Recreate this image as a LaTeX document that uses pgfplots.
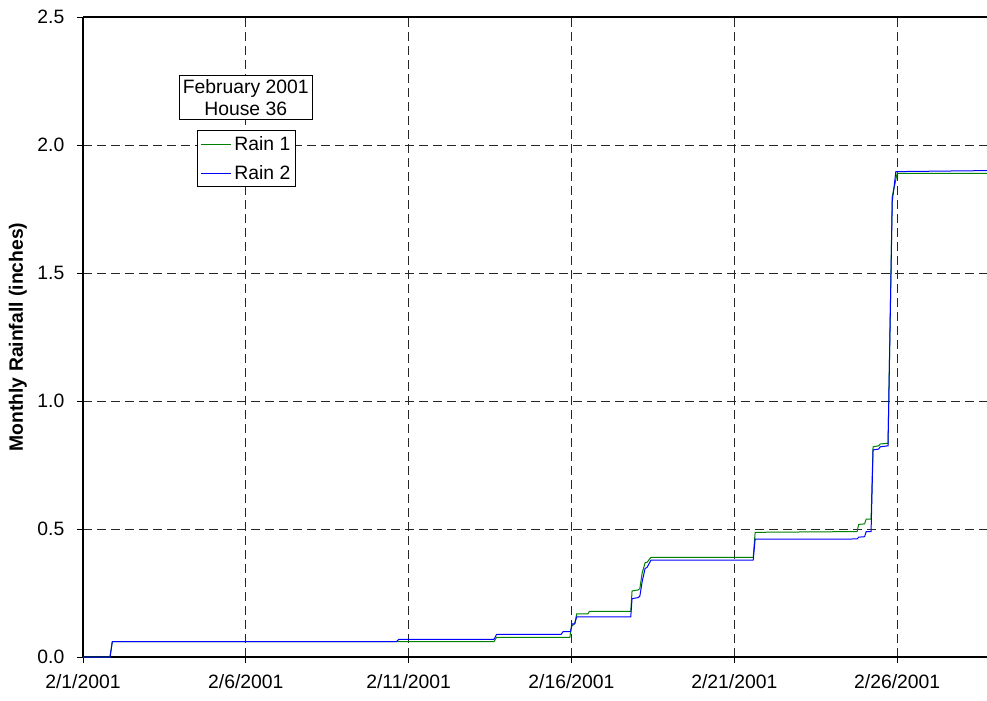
\documentclass[border=0pt]{standalone}
\usepackage{pgfplots}
\pgfplotsset{compat=1.18}
\usepackage{fontspec}
\setmainfont{Liberation Sans}

\definecolor{raingreen}{RGB}{0,128,0}
\definecolor{rainblue}{RGB}{0,0,255}

\begin{document}
\begin{tikzpicture}
\path[use as bounding box] (0,0) rectangle (740.25pt,525pt);
\begin{axis}[
    at={(62.25pt,32.25pt)}, anchor=south west,
    scale only axis,
    width=678pt, height=480pt,
    xmin=0, xmax=27.76,
    ymin=0, ymax=2.5,
    axis x line*=box,
    axis y line*=left,
    xtick pos=bottom,
    ytick pos=left,
    tick align=outside,
    major tick length=4.5pt,
    xtick={0,5,10,15,20,25},
    xticklabels={2/1/2001,2/6/2001,2/11/2001,2/16/2001,2/21/2001,2/26/2001},
    ytick={0,0.5,1,1.5,2,2.5},
    y tick label style={/pgf/number format/fixed, /pgf/number format/fixed zerofill,
        /pgf/number format/precision=1},
    /pgf/number format/assume math mode=true,
    ticklabel style={font=\fontsize{14.5}{17}\selectfont},
    xticklabel style={yshift=-5pt},
    yticklabel style={xshift=-6pt},
    ylabel={\bfseries Monthly Rainfall (inches)},
    ylabel style={font=\fontsize{14.5}{17}\selectfont},
    ylabel shift=1pt,
    grid=major,
    major grid style={black!85, dash pattern=on 7pt off 3.5pt, line width=0.6pt},
    axis line style={black, line width=0.8pt},
    every tick/.style={black, line width=0.6pt},
    legend style={at={(0.1261,0.823)}, anchor=north west, draw=black,
        line width=0.6pt, fill=white, font=\fontsize{14.5}{17}\selectfont,
        inner sep=2pt, row sep=6pt},
    legend cell align=left,
    legend image code/.code={\draw[#1] (0pt,0pt) -- (23pt,0pt);},
    clip=true,
]
\addplot[raingreen, line width=0.75pt] coordinates {
    (0,0) (0.83,0) (0.90,0.06) (12.62,0.06) (12.70,0.077) (14.95,0.077)
    (15.00,0.12) (15.10,0.13) (15.16,0.168) (15.50,0.168) (15.55,0.178)
    (16.82,0.178) (16.86,0.258) (17.05,0.262) (17.10,0.268) (17.17,0.328)
    (17.26,0.368) (17.32,0.370) (17.44,0.389) (20.58,0.389) (20.64,0.487)
    (23.77,0.490) (23.82,0.518) (24.00,0.520) (24.05,0.539) (24.20,0.539)
    (24.26,0.821) (24.43,0.825) (24.48,0.832) (24.72,0.835) (24.85,1.80)
    (24.92,1.84) (25.00,1.889) (27.76,1.889)
};
\addlegendentry{Rain 1}
\addplot[rainblue, line width=0.75pt] coordinates {
    (0,0) (0.83,0) (0.90,0.06) (9.62,0.06) (9.70,0.069) (12.62,0.069)
    (12.70,0.088) (14.68,0.088) (14.74,0.099) (14.97,0.099) (15.02,0.129)
    (15.10,0.130) (15.16,0.157) (16.82,0.157) (16.86,0.228) (17.05,0.232)
    (17.10,0.238) (17.17,0.294) (17.26,0.346) (17.32,0.350) (17.44,0.378)
    (20.58,0.378) (20.64,0.460) (23.77,0.461) (23.82,0.468) (24.00,0.470)
    (24.05,0.490) (24.20,0.490) (24.26,0.809) (24.43,0.812) (24.48,0.821)
    (24.72,0.825) (24.85,1.78) (24.90,1.83) (24.96,1.896) (27.76,1.900)
};
\addlegendentry{Rain 2}
\node[draw=black, line width=0.6pt, fill=white, align=center,
      font=\fontsize{14.5}{16.5}\selectfont, inner xsep=2.5pt, inner ysep=3pt]
    at (axis description cs:0.18,0.8745) {February 2001\\House 36};
\end{axis}
\end{tikzpicture}
\end{document}
